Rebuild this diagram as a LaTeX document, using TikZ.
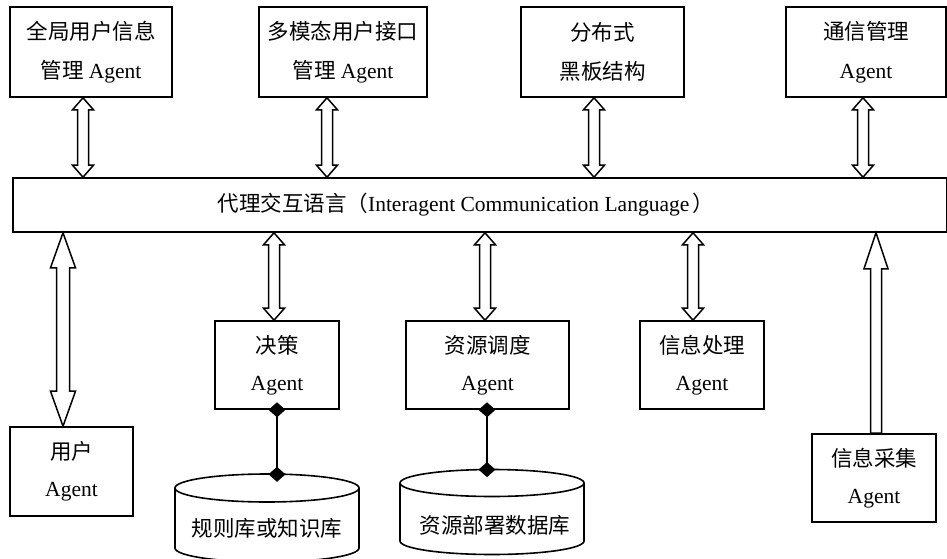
\documentclass[tikz,border=0pt]{standalone}
\usepackage{fontspec}
\setmainfont{Liberation Serif}
\newfontfamily\cjk{Noto Sans CJK SC}
\usetikzlibrary{calc,arrows.meta}
\tikzset{
  box/.style={draw, line width=1.6pt, rectangle, inner sep=0pt, align=center,
    font=\fontsize{21.5}{38.5}\selectfont},
  lowbox/.style={box, font=\fontsize{21.5}{37}\selectfont},
  arr/.style={draw, line width=1.5pt, line join=miter, fill=white},
  cyl/.style={draw, line width=1.6pt},
  dia/.style={line width=1.6pt, {Diamond[length=15pt,width=17pt]}-{Diamond[length=15pt,width=17pt]},
    shorten <=-7.5pt, shorten >=-7.5pt},
  lbl/.style={font=\fontsize{21.5}{24}\selectfont, inner sep=0pt}
}
% double-headed hollow arrow: #1 top point, #2 bottom point, #3 shaft half width, #4 head half width, #5 head length
\newcommand{\twoheadarrow}[5]{%
  \draw[arr] let \p1=#1, \p2=#2 in
    (\x1,\y1) -- (\x1+#4,\y1-#5) -- (\x1+#3,\y1-#5) -- (\x1+#3,\y2+#5) -- (\x1+#4,\y2+#5)
    -- (\x1,\y2) -- (\x1-#4,\y2+#5) -- (\x1-#3,\y2+#5) -- (\x1-#3,\y1-#5) -- (\x1-#4,\y1-#5) -- cycle;}
% single-headed hollow arrow pointing up
\newcommand{\oneheadarrow}[5]{%
  \draw[arr] let \p1=#1, \p2=#2 in
    (\x1,\y1) -- (\x1+#4,\y1-#5) -- (\x1+#3,\y1-#5) -- (\x1+#3,\y2) -- (\x1-#3,\y2)
    -- (\x1-#3,\y1-#5) -- (\x1-#4,\y1-#5) -- cycle;}
\begin{document}
\begin{tikzpicture}[x=1pt,y=-1pt]
\fill[white] (0,0) rectangle (947,559);
\useasboundingbox (0,0) rectangle (947,559);

% top boxes
\node[box, minimum width=162pt, minimum height=90pt] (g1) at (91,52) {{\cjk 全局用户信息}\\{\cjk 管理} Agent};
\node[box, minimum width=168pt, minimum height=90pt] (g2) at (343,52) {{\cjk 多模态用户接口}\\{\cjk 管理} Agent};
\node[box, minimum width=163pt, minimum height=90pt] (g3) at (602.5,52) {{\cjk 分布式}\\{\cjk 黑板结构}};
\node[box, minimum width=160pt, minimum height=90pt] (g4) at (866,52) {{\cjk 通信管理}\\Agent};

% bar
\node[box, minimum width=934pt, minimum height=54pt] (bar) at (480,205) {{\cjk 代理交互语言（}Interagent Communication Language\,{\cjk ）}\hspace*{28pt}};

% lower boxes
\node[lowbox, minimum width=123pt, minimum height=89pt] (user) at (71.5,471.5) {{\cjk 用户}\\Agent};
\node[lowbox, minimum width=124pt, minimum height=88pt] (jc) at (277,365) {{\cjk 决策}\\Agent};
\node[lowbox, minimum width=163pt, minimum height=88pt] (zy) at (487.5,365) {{\cjk 资源调度}\\Agent};
\node[lowbox, minimum width=124pt, minimum height=88pt] (xc) at (702,365) {{\cjk 信息处理}\\Agent};
\node[lowbox, minimum width=124pt, minimum height=88pt] (cj) at (874,478) {{\cjk 信息采集}\\Agent};

% top arrows
\twoheadarrow{(83,0 |- g1.south)}{(83,0 |- bar.north)}{5.5pt}{10.5pt}{12pt}
\twoheadarrow{(327,0 |- g2.south)}{(327,0 |- bar.north)}{5.5pt}{10.5pt}{12pt}
\twoheadarrow{(594,0 |- g3.south)}{(594,0 |- bar.north)}{5.5pt}{10.5pt}{12pt}
\twoheadarrow{(863,0 |- g4.south)}{(863,0 |- bar.north)}{5.5pt}{10.5pt}{12pt}

% lower arrows
\twoheadarrow{(63,0 |- bar.south)}{(63,0 |- user.north)}{6.5pt}{12.5pt}{35pt}
\twoheadarrow{(274,0 |- bar.south)}{(274,0 |- jc.north)}{5.5pt}{10.5pt}{12pt}
\twoheadarrow{(485,0 |- bar.south)}{(485,0 |- zy.north)}{5.5pt}{10.5pt}{12pt}
\twoheadarrow{(693,0 |- bar.south)}{(693,0 |- xc.north)}{5.5pt}{10.5pt}{12pt}
\oneheadarrow{(876,0 |- bar.south)}{(876,0 |- cj.north)}{5.5pt}{12pt}{36pt}

% cylinders
\draw[cyl] (175,488) -- (175,548) arc[start angle=180, end angle=0, x radius=92, y radius=14] -- (359,488);
\draw[cyl] (267,488) ellipse[x radius=92, y radius=14];
\coordinate (kbtop) at (277,474.3);
\node[lbl] (kb) at (267,528) {\cjk 规则库或知识库};

\draw[cyl] (400,483) -- (400,541) arc[start angle=180, end angle=0, x radius=92, y radius=13.5] -- (584,483);
\draw[cyl] (492,483) ellipse[x radius=92, y radius=13.5];
\coordinate (dbtop) at (487,469.6);
\node[lbl] (db) at (495,525) {\cjk 资源部署数据库};

% diamond connectors
\draw[dia] (277,0 |- jc.south) -- (kbtop);
\draw[dia] (487,0 |- zy.south) -- (dbtop);
\end{tikzpicture}
\end{document}
